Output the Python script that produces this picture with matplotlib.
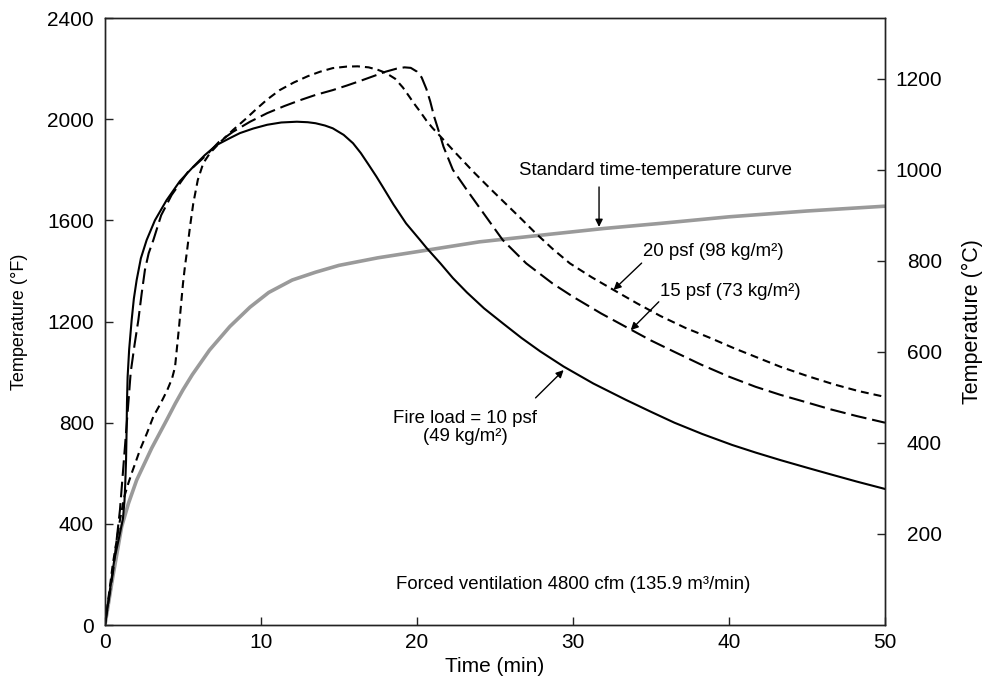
"""Fire temperature curves with forced ventilation (°F left, °C right)."""

import numpy as np
import matplotlib
matplotlib.use("Agg")
import matplotlib.pyplot as plt

# ---- data (time in min, temperature in °F) ----
t_10psf = [0, 0.3, 0.6, 0.9, 1.15, 1.25, 1.3, 1.35, 1.38, 1.41, 1.45, 1.55, 1.71, 1.85,
           2.03, 2.3, 2.67, 3.2, 3.95, 4.8, 5.66, 6.4, 7.16, 8.0, 8.65, 9.5, 10.4, 11.3,
           12.3, 13.0, 13.5, 14.1, 14.6, 15.3, 15.9, 16.4, 16.9, 17.4, 17.8, 18.5, 19.3,
           20.2, 20.6, 21.5, 22.3, 23.2, 24.3, 25.5, 26.7, 27.9, 29.4, 31.3, 33.4, 35.0,
           36.5, 38.3, 40.2, 41.7, 43.3, 45.0, 46.5, 48.2, 50]
f_10psf = [0, 130, 260, 345, 420, 490, 560, 650, 750, 880, 980, 1090, 1206, 1290,
           1364, 1450, 1522, 1600, 1680, 1755, 1812, 1858, 1898, 1925, 1945, 1963, 1978, 1987,
           1990, 1988, 1984, 1975, 1964, 1938, 1905, 1866, 1820, 1773, 1733, 1662, 1588,
           1522, 1492, 1430, 1372, 1315, 1252, 1193, 1135, 1082, 1022, 955, 890, 843,
           800, 755, 712, 682, 652, 622, 596, 567, 538]

t_15psf = [0, 0.53, 0.96, 1.28, 1.5, 1.65, 1.9, 2.14, 2.35, 2.56, 2.8, 3.1, 3.6, 4.27, 5.3,
           6.5, 7.3, 8.2, 9.3, 10.4, 11.5, 12.5, 13.5, 14.6, 15.5, 16.3, 17.2, 18.0, 18.7,
           19.2, 19.6, 20.0, 20.3, 20.6, 20.85, 21.1, 21.5, 21.7, 22.3, 23.2, 24.3, 25.5,
           27.0, 28.7, 30.0, 31.8, 33.65, 35.0, 36.5, 38.2, 40.0, 41.7, 43.3, 45.0, 46.5,
           48.2, 50]
f_15psf = [0, 217, 455, 705, 880, 1000, 1110, 1206, 1310, 1404, 1470, 1522, 1620, 1700, 1790,
           1858, 1910, 1950, 1990, 2024, 2052, 2075, 2096, 2115, 2133, 2150, 2170, 2188, 2200,
           2205, 2203, 2188, 2165, 2120, 2070, 2010, 1932, 1891, 1800, 1720, 1625, 1522,
           1430, 1350, 1298, 1232, 1170, 1125, 1080, 1030, 982, 942, 910, 880, 853,
           826, 800]

t_20psf = [0, 0.5, 0.96, 1.25, 1.5, 1.71, 2.0, 2.24, 2.7, 3.1, 3.6, 4.0, 4.3, 4.49, 4.62,
           4.75, 4.88, 5.0, 5.12, 5.24, 5.45, 5.66, 5.95, 6.3, 6.73, 7.4, 8.2, 9.0, 9.7,
           10.4, 11.2, 12.1, 13.0, 13.8, 14.6, 15.5, 16.2, 16.9, 17.5, 18.0, 18.6, 19.1,
           19.5, 19.8, 20.2, 20.6, 21.0, 21.5, 22.5, 23.6, 24.7, 25.75, 26.7, 27.56, 28.7,
           29.8, 31.2, 32.6, 34.1, 35.6, 37.2, 38.8, 40.3, 41.8, 43.3, 45.0, 46.7, 48.3, 50]
f_20psf = [0, 240, 415, 510, 561, 600, 650, 692, 760, 824, 880, 930, 975, 1020, 1100,
           1180, 1270, 1350, 1415, 1470, 1575, 1667, 1760, 1826, 1866, 1910, 1957, 2000, 2040,
           2078, 2115, 2145, 2170, 2188, 2202, 2208, 2209, 2205, 2195, 2183, 2160, 2125,
           2090, 2063, 2030, 1995, 1965, 1932, 1865, 1793, 1725, 1662, 1605, 1552, 1487,
           1430, 1375, 1325, 1272, 1222, 1175, 1135, 1095, 1058, 1021, 985, 952, 925, 902]

t_std = [0, 0.5, 1.07, 1.5, 2.03, 3.0, 3.95, 4.5, 5.0, 5.6, 6.7, 8.0, 9.3, 10.5, 12, 13.5,
         15, 17.5, 20.2, 24, 28.5, 32, 35.6, 40, 45, 50]
f_std = [0, 190, 389, 480, 573, 700, 810, 875, 930, 990, 1087, 1180, 1257, 1315, 1364, 1395,
         1422, 1452, 1478, 1515, 1545, 1568, 1588, 1614, 1637, 1656]

x_ticks = [0, 10, 20, 30, 40, 50]
f_ticks = [0, 400, 800, 1200, 1600, 2000, 2400]
c_ticks = [200, 400, 600, 800, 1000, 1200]

plt.rcParams["font.family"] = ["Liberation Sans", "DejaVu Sans"]

fig = plt.figure(figsize=(9.83, 6.83), dpi=100)
ax = fig.add_axes([0.1068, 0.0849, 0.7935, 0.8887])

# curves
ax.plot(t_std, f_std, color="#9a9a9a", lw=2.6, solid_capstyle="butt", solid_joinstyle="round", zorder=2)
ax.plot(t_10psf, f_10psf, color="black", lw=1.5, solid_joinstyle="round", zorder=3)
ax.plot(t_15psf, f_15psf, color="black", lw=1.5, dashes=(7.5, 2.8), dash_joinstyle="round", zorder=3)
ax.plot(t_20psf, f_20psf, color="black", lw=1.5, dashes=(3.8, 2.4), dash_joinstyle="round", zorder=3)

ax.set_xlim(0, 50)
ax.set_ylim(0, 2400)
ax.set_xticks(x_ticks)
ax.set_yticks(f_ticks)

# right axis in °C (scaled straight from °F / 1.8)
ax2 = ax.twinx()
ax2.set_ylim(0, 2400 / 1.8)
ax2.set_yticks(c_ticks)

for a in (ax, ax2):
    for s in a.spines.values():
        s.set_linewidth(1.0)
        s.set_color("#222222")
ax.tick_params(axis="both", direction="in", length=6, width=1, labelsize=15, color="#222222")
ax.tick_params(axis="y", pad=8)
ax.tick_params(axis="x", pad=6)
ax2.tick_params(axis="y", direction="in", length=6, width=1, labelsize=15, pad=41, color="#222222")
for lab in ax2.get_yticklabels():
    lab.set_horizontalalignment("right")

ax.set_xlabel("Time (min)", fontsize=15)
ax.xaxis.set_label_coords(0.5, -0.052)
ax.set_ylabel("Temperature (°F)", fontsize=13)
ax.yaxis.set_label_coords(-0.0987, 0.5)
ax2.set_ylabel("Temperature (°C)", fontsize=15.5)
ax2.yaxis.set_label_coords(1.099, 0.5)

# annotations
arrow = dict(arrowstyle="-|>", color="black", lw=1.0, mutation_scale=11, shrinkA=0, shrinkB=0)
fs = 13.4
ax.text(35.3, 1799, "Standard time-temperature curve", fontsize=fs, ha="center", va="center")
ax.annotate("", xy=(31.67, 1574), xytext=(31.67, 1732), arrowprops=arrow)

ax.text(34.5, 1475, "20 psf (98 kg/m²)", fontsize=fs, ha="left", va="center")
ax.annotate("", xy=(32.6, 1325), xytext=(34.4, 1431), arrowprops=arrow)

ax.text(35.6, 1317, "15 psf (73 kg/m²)", fontsize=fs, ha="left", va="center")
ax.annotate("", xy=(33.7, 1166), xytext=(35.5, 1278), arrowprops=arrow)

ax.text(23.1, 782, "Fire load = 10 psf\n(49 kg/m²)", fontsize=fs, ha="center", va="center",
        multialignment="center", linespacing=1.1)
ax.annotate("", xy=(29.4, 1008), xytext=(27.6, 898), arrowprops=arrow)

ax.text(30.0, 160, "Forced ventilation 4800 cfm (135.9 m³/min)", fontsize=fs,
        ha="center", va="center")

fig.savefig("out.png", dpi=100)
